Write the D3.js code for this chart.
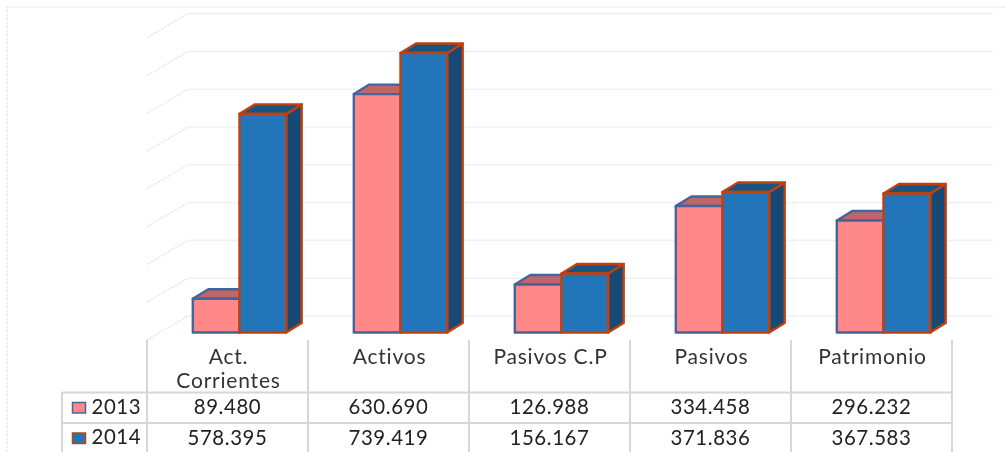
<!DOCTYPE html>
<html>
<head>
<meta charset="utf-8">
<script src="https://cdn.jsdelivr.net/npm/d3@7"></script>
<style>
  html, body { margin: 0; padding: 0; background: #fff; overflow: hidden; }
  text { font-family: Lato, "Open Sans", sans-serif; }
</style>
</head>
<body>
<div id="chart"></div>
<script>
const categories = [["Act.", "Corrientes"], ["Activos"], ["Pasivos C.P"], ["Pasivos"], ["Patrimonio"]];
const years = ["2013", "2014"];
const values2013 = [89480, 630690, 126988, 334458, 296232];
const values2014 = [578395, 739419, 156167, 371836, 367583];
const labels2013 = ["89.480", "630.690", "126.988", "334.458", "296.232"];
const labels2014 = ["578.395", "739.419", "156.167", "371.836", "367.583"];

const WIDTH = 1005, HEIGHT = 452;
const WALL_DX = 41, WALL_DY = -24;   // depth of the chart box
const BAR_DX = 15.5, BAR_DY = -9.5;  // depth of one bar
const INSET_DX = 12, INSET_DY = -7.5; // bars stand a little inside the floor

const styles = [
  { front: "#ff8888", top: "#c06666", side: "#b05c5c", stroke: "#41659f" },
  { front: "#2474b8", top: "#165482", side: "#134a76", stroke: "#c2410f" }
];

const svg = d3.select("#chart").append("svg")
  .attr("width", WIDTH)
  .attr("height", HEIGHT);

const defs = svg.append("defs");
defs.append("filter").attr("id", "soft")
  .append("feGaussianBlur").attr("stdDeviation", 0.5);

const x = d3.scaleBand()
  .domain(d3.range(categories.length))
  .range([147, 952])
  .paddingInner(0.42)
  .paddingOuter(0.21);

const series = d3.scaleBand()
  .domain(d3.range(years.length))
  .range([0, x.bandwidth()]);

const y = d3.scaleLinear()
  .domain([0, 800000])
  .range([340, 37.6]);

// frame and back wall
const grid = svg.append("g")
  .attr("fill", "none")
  .attr("stroke", "#ececec")
  .attr("stroke-width", 1.6)
  .attr("stroke-dasharray", "3 1");

grid.append("path").attr("d", "M7,452V7H1005");

grid.selectAll("path.tick")
  .data(y.ticks(8))
  .enter().append("path")
  .attr("class", "tick")
  .attr("d", (d) => "M147," + y(d) + "l" + WALL_DX + "," + WALL_DY + "H993");

// bars
const bars = svg.append("g")
  .attr("filter", "url(#soft)")
  .attr("stroke-width", 2.4)
  .attr("stroke-linejoin", "round");

function drawBar (g, i, s, value) {
  const st = styles[s],
        x0 = x(i) + series(s) + INSET_DX,
        w = series.bandwidth(),
        y0 = y(0) + INSET_DY,
        y1 = y(value) + INSET_DY;

  g.append("path")
    .attr("d", "M" + (x0 + w) + "," + y1 + "l" + BAR_DX + "," + BAR_DY + "V" + (y0 + BAR_DY) + "l" + (-BAR_DX) + "," + (-BAR_DY) + "Z")
    .attr("fill", st.side)
    .attr("stroke", st.stroke);

  g.append("path")
    .attr("d", "M" + x0 + "," + y1 + "l" + BAR_DX + "," + BAR_DY + "h" + w + "l" + (-BAR_DX) + "," + (-BAR_DY) + "Z")
    .attr("fill", st.top)
    .attr("stroke", st.stroke);

  g.append("rect")
    .attr("x", x0)
    .attr("y", y1)
    .attr("width", w)
    .attr("height", y0 - y1)
    .attr("fill", st.front)
    .attr("stroke", st.stroke);
}

categories.forEach((c, i) => {
  const g = bars.append("g");
  drawBar(g, i, 0, values2013[i]);
  drawBar(g, i, 1, values2014[i]);
});

// data table
const edges = d3.range(categories.length + 1).map((i) => 147 + i * x.step());
const table = svg.append("g")
  .attr("filter", "url(#soft)")
  .attr("stroke", "#d6d6d6")
  .attr("stroke-width", 2)
  .attr("fill", "none");

table.selectAll("line.v")
  .data(edges)
  .enter().append("line")
  .attr("class", "v")
  .attr("x1", (d) => d).attr("x2", (d) => d)
  .attr("y1", 340).attr("y2", HEIGHT);

table.append("line").attr("x1", 62).attr("x2", 62).attr("y1", 392).attr("y2", HEIGHT);

table.selectAll("line.h")
  .data([392.5, 423])
  .enter().append("line")
  .attr("class", "h")
  .attr("x1", 62).attr("x2", 952)
  .attr("y1", (d) => d).attr("y2", (d) => d);

const txt = svg.append("g")
  .attr("filter", "url(#soft)")
  .attr("text-anchor", "middle")
  .attr("font-size", 20.4)
  .attr("letter-spacing", 0.6)
  .attr("fill", "#222");

categories.forEach((lines, i) => {
  const cx = edges[i] + x.step() / 2;
  lines.forEach((t, j) => {
    txt.append("text")
      .attr("x", cx + 1)
      .attr("y", 364 + j * 23.5)
      .attr("font-size", 21)
      .attr("letter-spacing", 0.8)
      .attr("fill", "#333")
      .text(t);
  });
  txt.append("text").attr("x", cx).attr("y", 413.5).text(labels2013[i]);
  txt.append("text").attr("x", cx).attr("y", 444.5).text(labels2014[i]);
});

// legend keys in the first column
years.forEach((yr, s) => {
  const rowY = [402.5, 433][s];
  svg.append("rect")
    .attr("filter", "url(#soft)")
    .attr("x", 72.5).attr("y", rowY)
    .attr("width", 13).attr("height", 10.5)
    .attr("fill", styles[s].front)
    .attr("stroke", styles[s].stroke)
    .attr("stroke-width", 1.5);
  txt.append("text")
    .attr("x", 91.5).attr("y", rowY + 11)
    .attr("text-anchor", "start")
    .text(yr);
});
</script>
</body>
</html>
